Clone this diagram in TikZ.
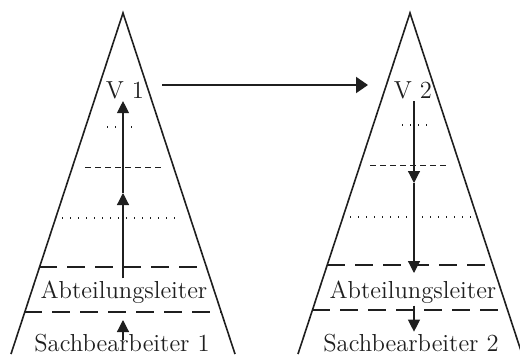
\documentclass[tikz,border=0pt]{standalone}
\usepackage{tikz}
\usepackage{xcolor}
\usetikzlibrary{arrows.meta,positioning,calc}
\definecolor{ink}{gray}{0.12}
\tikzset{
  side/.style={draw=ink,line width=0.8pt},
  bigdash/.style={draw=ink,line width=1.2pt,dash pattern=on 9pt off 5pt},
  smalldash/.style={draw=ink,line width=0.5pt,dash pattern=on 3pt off 2pt},
  dots/.style={draw=ink,line width=0.7pt,dash pattern=on 0.7pt off 3.3pt},
  flow/.style={draw=ink,line width=0.6pt,-{Triangle[length=6pt,width=6pt]}},
  lvl/.style={font=\fontsize{12.3}{14}\selectfont,inner sep=1pt,text=ink}
}

\begin{document}
\begin{tikzpicture}[x=0.5pt,y=-0.5pt]
\useasboundingbox (0,0) rectangle (520,354);
% left pyramid
\draw[side] (11,354)--(123,13)--(235,354);
\draw[dots] (107,127)--(137,127);
\draw[smalldash] (85,167)--(163,167);
\draw[dots] (62,218)--(177,218);
\draw[bigdash] (39,267)--(207,267);
\draw[bigdash] (24,312)--(222,312);
\node[lvl] (v1) at (125,90) {V 1};
\node[lvl] (abt1) at (124,292) {Abteilungsleiter};
\node[lvl] (sb1) at (122,343) {Sachbearbeiter 1};
\coordinate (m1) at (123,193);
\coordinate (b1) at (123,340);
\coordinate (t1) at (123,320);
\draw[flow] (abt1.north -| m1) -- (m1);
\draw[flow] (m1) -- (m1 |- v1.south);
\draw[flow] (b1) -- (t1);
% right pyramid
\draw[side] (298,354)--(410,13)--(522,354);
\draw[dots] (402,125)--(430,125);
\draw[smalldash] (370,165)--(448,165);
\draw[dots] (350,217)--(477,217);
\draw[bigdash] (327,265)--(493,265);
\draw[bigdash] (312,310)--(508,310);
\node[lvl] (v2) at (413,90) {V 2};
\node[lvl] (abt2) at (413,292) {Abteilungsleiter};
\node[lvl] (sb2) at (411,343) {Sachbearbeiter 2};
\coordinate (m2) at (414,183);
\coordinate (t2) at (414,273);
\draw[flow] (m2 |- v2.south) -- (m2);
\draw[flow] (m2) -- (t2);
\draw[flow] (m2 |- abt2.south) -- (m2 |- sb2.north);
% transfer
\coordinate (hs) at (162,85);
\coordinate (he) at (368,85);
\draw[draw=ink,line width=1pt,-{Triangle[length=6pt,width=8pt]}] (hs) -- (he);
\end{tikzpicture}
\end{document}
